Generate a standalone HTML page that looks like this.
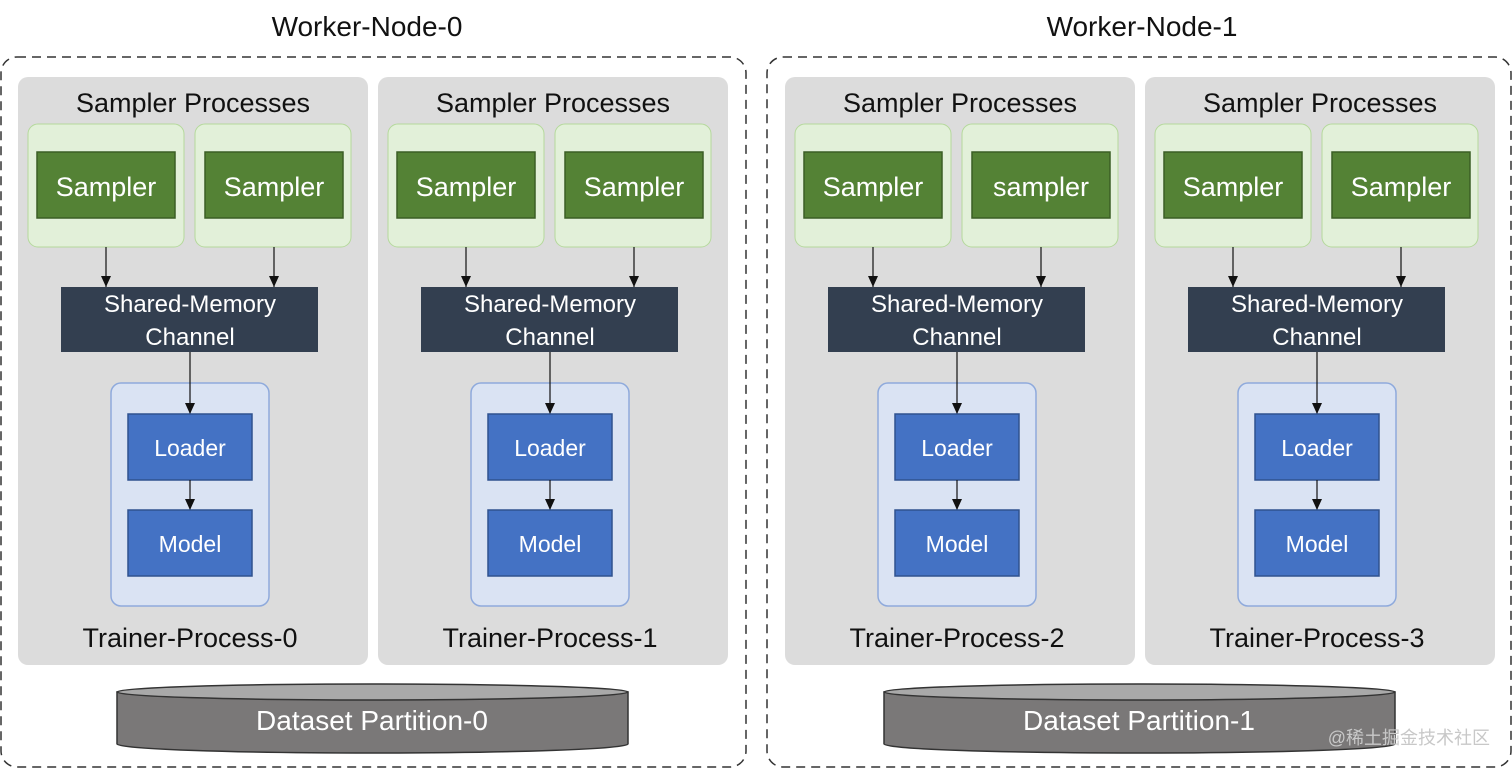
<!DOCTYPE html>
<html><head><meta charset="utf-8"><style>
html,body{margin:0;padding:0;background:#fff;width:1512px;height:769px;overflow:hidden}
svg text{font-family:"Liberation Sans","Noto Sans CJK SC",sans-serif}
</style></head><body>
<svg width="1512" height="769" viewBox="0 0 1512 769" xmlns="http://www.w3.org/2000/svg">
<defs>
<marker id="ar" markerWidth="11" markerHeight="11" refX="11" refY="5" orient="auto" markerUnits="userSpaceOnUse">
<path d="M0,0 L11,5 L0,10 Z" fill="#111"/>
</marker>
<g id="panelBase">
<rect x="0" y="77" width="350" height="588" rx="10" fill="#dcdcdc"/>
<text x="175" y="112" font-size="27" text-anchor="middle" fill="#111">Sampler Processes</text>
<rect x="10" y="124" width="156" height="123" rx="10" fill="#e2f0d9" stroke="#b5d99c"/>
<rect x="177" y="124" width="156" height="123" rx="10" fill="#e2f0d9" stroke="#b5d99c"/>
<rect x="19" y="152" width="138" height="66" fill="#548235" stroke="#3b5e25" stroke-width="1.5"/>
<rect x="187" y="152" width="138" height="66" fill="#548235" stroke="#3b5e25" stroke-width="1.5"/>
<line x1="88" y1="247" x2="88" y2="287" stroke="#111" stroke-width="1.2" marker-end="url(#ar)"/>
<line x1="256" y1="247" x2="256" y2="287" stroke="#111" stroke-width="1.2" marker-end="url(#ar)"/>
<rect x="43" y="287" width="257" height="65" fill="#333f50"/>
<text x="172" y="312" font-size="24" text-anchor="middle" fill="#fff">Shared-Memory</text>
<text x="172" y="345" font-size="24" text-anchor="middle" fill="#fff">Channel</text>
<rect x="93" y="383" width="158" height="223" rx="10" fill="#dae3f3" stroke="#8faadc" stroke-width="1.5"/>
<line x1="172" y1="352" x2="172" y2="414" stroke="#111" stroke-width="1.2" marker-end="url(#ar)"/>
<rect x="110" y="414" width="124" height="66" fill="#4472c4" stroke="#2f528f" stroke-width="1.5"/>
<text x="172" y="456" font-size="23" text-anchor="middle" fill="#fff">Loader</text>
<line x1="172" y1="480" x2="172" y2="510" stroke="#111" stroke-width="1.2" marker-end="url(#ar)"/>
<rect x="110" y="510" width="124" height="66" fill="#4472c4" stroke="#2f528f" stroke-width="1.5"/>
<text x="172" y="552" font-size="23" text-anchor="middle" fill="#fff">Model</text>
</g>
<g id="cyl">
<path d="M117,692 L117,744 A255.5,9 0 0 0 628,744 L628,692 Z" fill="#7a7878" stroke="#333" stroke-width="1.5"/>
<ellipse cx="372.5" cy="692" rx="255.5" ry="8" fill="#a9a9a9" stroke="#333" stroke-width="1.5"/>
</g>
</defs>

<rect x="1" y="57" width="745" height="710" rx="16" fill="none" stroke="#333" stroke-width="1.5" stroke-dasharray="9,6"/>
<rect x="767" y="57" width="744" height="710" rx="16" fill="none" stroke="#333" stroke-width="1.5" stroke-dasharray="9,6"/>
<text x="367" y="36" font-size="28" text-anchor="middle" fill="#111">Worker-Node-0</text>
<text x="1142" y="36" font-size="28" text-anchor="middle" fill="#111">Worker-Node-1</text>

<g transform="translate(18,0)"><use href="#panelBase"/>
<text x="88" y="196" font-size="27" text-anchor="middle" fill="#fff">Sampler</text>
<text x="256" y="196" font-size="27" text-anchor="middle" fill="#fff">Sampler</text>
<text x="172" y="647" font-size="27" text-anchor="middle" fill="#111">Trainer-Process-0</text></g>
<g transform="translate(378,0)"><use href="#panelBase"/>
<text x="88" y="196" font-size="27" text-anchor="middle" fill="#fff">Sampler</text>
<text x="256" y="196" font-size="27" text-anchor="middle" fill="#fff">Sampler</text>
<text x="172" y="647" font-size="27" text-anchor="middle" fill="#111">Trainer-Process-1</text></g>
<g transform="translate(785,0)"><use href="#panelBase"/>
<text x="88" y="196" font-size="27" text-anchor="middle" fill="#fff">Sampler</text>
<text x="256" y="196" font-size="27" text-anchor="middle" fill="#fff">sampler</text>
<text x="172" y="647" font-size="27" text-anchor="middle" fill="#111">Trainer-Process-2</text></g>
<g transform="translate(1145,0)"><use href="#panelBase"/>
<text x="88" y="196" font-size="27" text-anchor="middle" fill="#fff">Sampler</text>
<text x="256" y="196" font-size="27" text-anchor="middle" fill="#fff">Sampler</text>
<text x="172" y="647" font-size="27" text-anchor="middle" fill="#111">Trainer-Process-3</text></g>

<use href="#cyl"/>
<text x="372" y="730" font-size="28" text-anchor="middle" fill="#fff">Dataset Partition-0</text>
<g transform="translate(767,0)"><use href="#cyl"/>
<text x="372" y="730" font-size="28" text-anchor="middle" fill="#fff">Dataset Partition-1</text></g>

<text x="1490" y="744" font-size="18" text-anchor="end" fill="#c8c8c8">@稀土掘金技术社区</text>
</svg>
</body></html>
